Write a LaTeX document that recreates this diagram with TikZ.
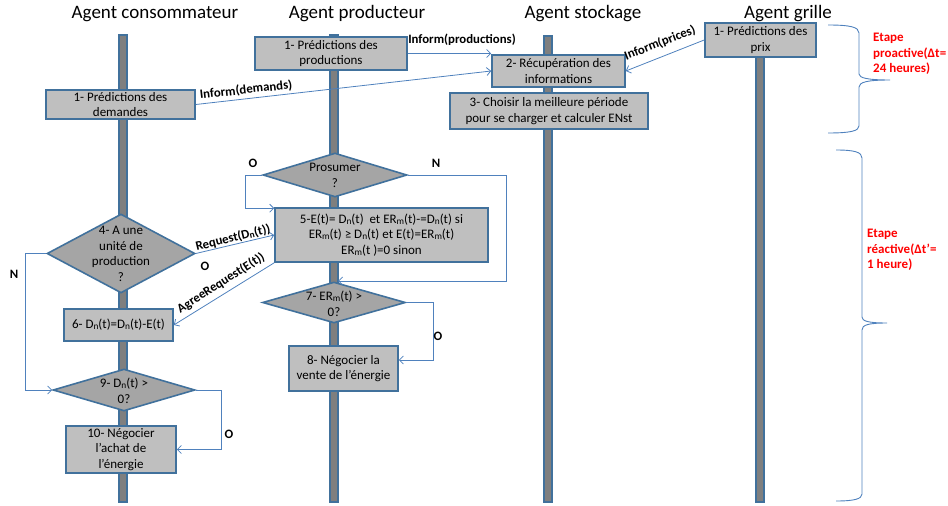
\documentclass[tikz,border=0pt]{standalone}
\usepackage{fontspec}
\usepackage{graphicx}
\setmainfont{Carlito}
\usetikzlibrary{arrows.meta,shapes.geometric,calc}
\definecolor{bordc}{HTML}{41719C}
\definecolor{connc}{HTML}{4F81BD}
\definecolor{boxf}{HTML}{BFBFBF}
\definecolor{diaf}{HTML}{A5A5A5}
\definecolor{lifef}{HTML}{7F7F7F}
\definecolor{etapec}{HTML}{FF0000}
\newcommand\sbn[1]{\raisebox{-0.7pt}{\scalebox{0.72}{#1}}}
\begin{document}
\begin{tikzpicture}[x=1pt,y=-1pt,
  box/.style={rectangle, draw=bordc, line width=1.6pt, fill=boxf, inner sep=0pt, align=center, font=\fontsize{13}{15.5}\selectfont},
  dia/.style={diamond, draw=bordc, line width=1.6pt, fill=diaf, inner sep=0pt},
  dtext/.style={align=center, font=\fontsize{13}{15.5}\selectfont, inner sep=0pt},
  life/.style={draw=bordc, line width=1.4pt, fill=lifef},
  conn/.style={draw=connc, line width=0.8pt, -{Straight Barb[length=4pt,width=8pt]}},
  lbl/.style={font=\bfseries\fontsize{12.8}{14}\selectfont, inner sep=0pt},
  titlelbl/.style={font=\fontsize{19}{22}\selectfont, inner sep=0pt, anchor=base},
  etape/.style={text=etapec, font=\bfseries\fontsize{13}{15.5}\selectfont, align=left, inner sep=0pt, anchor=north west},
  bracec/.style={draw=connc, line width=0.9pt}
]
\useasboundingbox (0,0) rectangle (948,506);

% titles
\node[titlelbl] (t1) at (155,18) {Agent consommateur};
\node[titlelbl] (t2) at (357,18) {Agent producteur};
\node[titlelbl] (t3) at (583,18) {Agent stockage};
\node[titlelbl] (t4) at (788,18) {Agent grille};

% lifelines
\draw[life] (119,35) rectangle (127,502);
\draw[life] (330,35) rectangle (338,502);
\draw[life] (544,36) rectangle (552,502);
\draw[life] (756,50) rectangle (764,502);

% boxes
\node[box, minimum width=152pt, minimum height=33pt] (b1p) at (331,53.5) {1- Prédictions des\\productions};
\node[box, minimum width=149pt, minimum height=29pt] (b1c) at (120.5,104.5) {1- Prédictions des\\demandes};
\node[box, minimum width=133pt, minimum height=32pt] (b2) at (558.5,71) {2- Récupération des\\informations};
\node[box, minimum width=198pt, minimum height=36pt] (b3) at (549,111) {3- Choisir la meilleure période\\pour se charger et calculer ENst};
\node[box, minimum width=111pt, minimum height=34pt] (bg) at (760.5,40) {1- Prédictions des\\prix};
\node[box, minimum width=213pt, minimum height=54pt] (b5) at (381.5,235) {5-E(t)= D\sbn{n}(t)\ \ et ER\sbn{m}(t)-=D\sbn{n}(t) si\\ER\sbn{m}(t) ≥ D\sbn{n}(t) et E(t)=ER\sbn{m}(t)\\ER\sbn{m}(t )=0 sinon};
\node[box, minimum width=109pt, minimum height=32pt] (b6) at (118.5,325) {6- D\sbn{n}(t)=D\sbn{n}(t)-E(t)};
\node[box, minimum width=109pt, minimum height=45pt] (b8) at (343.5,368.5) {8- Négocier la\\vente de l’énergie};
\node[box, minimum width=110pt, minimum height=47pt] (b10) at (121,449.5) {10- Négocier\\l’achat de\\l’énergie};

% diamonds
\node[dia, minimum width=144pt, minimum height=44pt] (dp) at (335,175) {};
\node[dtext] at (335,175.5) {Prosumer\\?};
\node[dia, minimum width=148pt, minimum height=79pt] (d4) at (121,253.5) {};
\node[dtext] at (121,254) {4- A une\\unité de\\production\\?};
\node[dia, minimum width=143pt, minimum height=41pt] (d7) at (334,302.5) {};
\node[dtext] at (334,304) {7- ER\sbn{m}(t) >\\0?};
\node[dia, minimum width=142pt, minimum height=42pt] (d9) at (124,390) {};
\node[dtext] at (124,391) {9- D\sbn{n}(t) >\\0?};

% connectors (proactive)
\draw[conn] (b1p.east) -- (b1p.east -| b2.west);
\node[lbl] (l1) at (462,40) {Inform(productions)};
\draw[conn] (b1c.east) -- (b2.west);
\node[lbl, rotate=6.4] (l2) at (246,90) {Inform(demands)};
\draw[conn] (bg.west) -- (b2.east);
\node[lbl, rotate=21.4] (l3) at (660,43) {Inform(prices)};

% connectors (reactive)
\coordinate (c5in) at ([yshift=-1pt]b5.north west);
\draw[conn] (dp.west) -- ++(-17,0) |- (c5in);
\node[lbl] (lo1) at (253,163) {O};
\coordinate (c7in) at (338,281);
\draw[conn] (dp.east) -- (506,175) -- (506,281) -- (c7in);
\node[lbl] (ln1) at (436,163) {N};

\draw[conn] (d4.east) -- (b5.west);
\node[lbl, rotate=13.7] (l4) at (233,238) {Request(D\sbn{n}(t))};
\node[lbl] (lo2) at (205,266) {O};
\draw[conn] (b5.south west) -- (b6.east);
\node[lbl, rotate=32.5] (l5) at (221,283) {AgreeRequest(E(t))};

\draw[conn] (d4.west) -- ++(-21,0) |- (d9.west);
\node[lbl] (ln2) at (14,274) {N};

\draw[conn] (d7.east) -- ++(27,0) |- ([yshift=8.5pt]b8.east);
\node[lbl] (lo3) at (438,336) {O};

\draw[conn] (d9.east) -- ++(26,0) |- (b10.east);
\node[lbl] (lo4) at (229,434) {O};

% braces
\draw[bracec] (828,25) .. controls (850,25) and (859,27) .. (859,33) -- (859,74) .. controls (859,78) and (868,80) .. (890,80) .. controls (868,80) and (859,82) .. (859,87) -- (859,126) .. controls (859,131) and (850,133) .. (828,133);
\draw[bracec] (836,150) .. controls (854,150) and (862,152) .. (862,158) -- (862,317) .. controls (862,321) and (868,323) .. (887,323) .. controls (868,323) and (862,325) .. (862,330) -- (862,494) .. controls (862,499) and (854,501) .. (836,501);

\node[etape] (e1) at (873,33) {Etape\\proactive(Δt=\\24 heures)};
\node[etape] (e2) at (867,229) {Etape\\réactive(Δt’=\\1 heure)};
\end{tikzpicture}
\end{document}
